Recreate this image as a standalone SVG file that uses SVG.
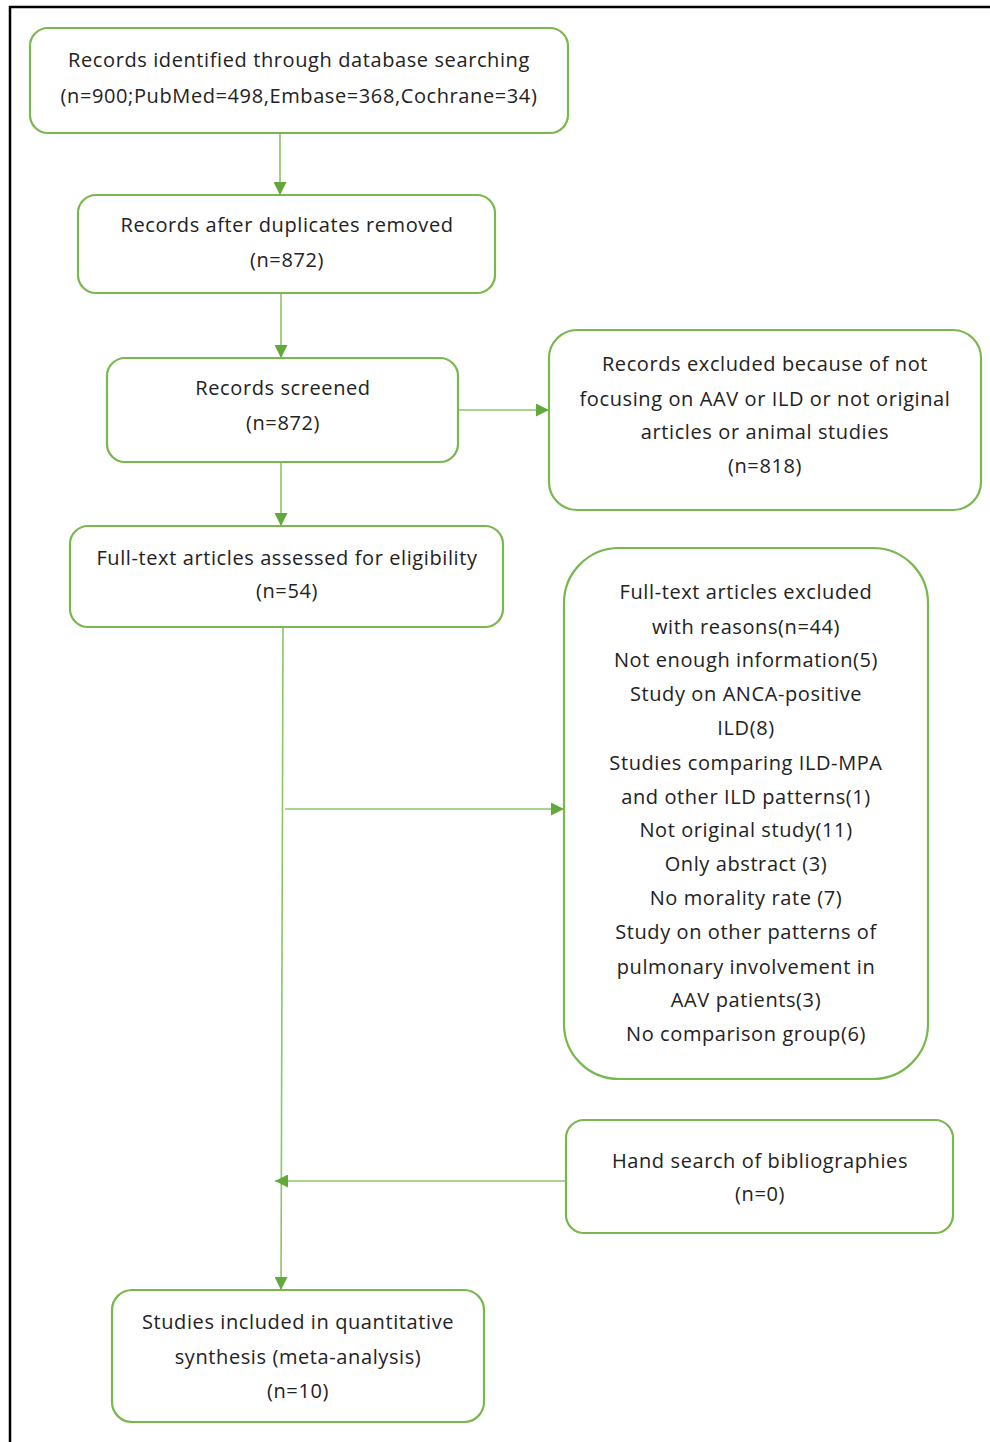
<svg xmlns="http://www.w3.org/2000/svg" width="990" height="1442" viewBox="0 0 990 1442">
<defs>
<marker id="ah" viewBox="0 0 10 10" refX="10" refY="5" markerWidth="13" markerHeight="13" markerUnits="userSpaceOnUse" orient="auto">
<path d="M0,0 L10,5 L0,10 Z" fill="#62a83a"/>
</marker>
</defs>
<style>
.box{fill:#ffffff;stroke:#78b84e;stroke-width:2.2}
.t{font-family:"Open Sans","DejaVu Sans",sans-serif;font-size:20px;letter-spacing:0.6px;fill:#222222;text-anchor:middle}
.c{fill:none;stroke:#8cc46a;stroke-width:1.6}
</style>
<rect width="990" height="1442" fill="#ffffff"/>
<path d="M10,1442 L10,7 L990,7" fill="none" stroke="#000000" stroke-width="2.5"/>
<g id="connectors">
<path class="c" d="M280,133 L280,195" marker-end="url(#ah)"/>
<path class="c" d="M281,293 L281,358" marker-end="url(#ah)"/>
<path class="c" d="M458,410 L549,410" marker-end="url(#ah)"/>
<path class="c" d="M281,462 L281,526" marker-end="url(#ah)"/>
<path class="c" d="M283,627 L281,1290" marker-end="url(#ah)"/>
<path class="c" d="M285,809 L564,809" marker-end="url(#ah)"/>
<path class="c" d="M566,1181 L275,1181" marker-end="url(#ah)"/>
</g>
<g id="n1">
<rect class="box" x="30" y="28" width="538" height="105" rx="18"/>
<text class="t" x="299" y="67">Records identified through database searching</text>
<text class="t" x="299" y="103">(n=900;PubMed=498,Embase=368,Cochrane=34)</text>
</g>
<g id="n2">
<rect class="box" x="78" y="195" width="417" height="98" rx="18"/>
<text class="t" x="287" y="232">Records after duplicates removed</text>
<text class="t" x="287" y="267">(n=872)</text>
</g>
<g id="n3">
<rect class="box" x="107" y="358" width="351" height="104" rx="18"/>
<text class="t" x="283" y="395">Records screened</text>
<text class="t" x="283" y="430">(n=872)</text>
</g>
<g id="n4">
<rect class="box" x="549" y="330" width="432" height="180" rx="28"/>
<text class="t" x="765" y="371">Records excluded because of not</text>
<text class="t" x="765" y="406">focusing on AAV or ILD or not original</text>
<text class="t" x="765" y="439">articles or animal studies</text>
<text class="t" x="765" y="473">(n=818)</text>
</g>
<g id="n5">
<rect class="box" x="70" y="526" width="433" height="101" rx="18"/>
<text class="t" x="287" y="565">Full-text articles assessed for eligibility</text>
<text class="t" x="287" y="598">(n=54)</text>
</g>
<g id="n6">
<rect class="box" x="564" y="548" width="364" height="531" rx="55"/>
<text class="t" x="746" y="599">Full-text articles excluded</text>
<text class="t" x="746" y="634">with reasons(n=44)</text>
<text class="t" x="746" y="667">Not enough information(5)</text>
<text class="t" x="746" y="701">Study on ANCA-positive</text>
<text class="t" x="746" y="735">ILD(8)</text>
<text class="t" x="746" y="770">Studies comparing ILD-MPA</text>
<text class="t" x="746" y="804">and other ILD patterns(1)</text>
<text class="t" x="746" y="837">Not original study(11)</text>
<text class="t" x="746" y="871">Only abstract (3)</text>
<text class="t" x="746" y="905">No morality rate (7)</text>
<text class="t" x="746" y="939">Study on other patterns of</text>
<text class="t" x="746" y="974">pulmonary involvement in</text>
<text class="t" x="746" y="1007">AAV patients(3)</text>
<text class="t" x="746" y="1041">No comparison group(6)</text>
</g>
<g id="n7">
<rect class="box" x="566" y="1120" width="387" height="113" rx="18"/>
<text class="t" x="760" y="1168">Hand search of bibliographies</text>
<text class="t" x="760" y="1201">(n=0)</text>
</g>
<g id="n8">
<rect class="box" x="112" y="1290" width="372" height="132" rx="20"/>
<text class="t" x="298" y="1329">Studies included in quantitative</text>
<text class="t" x="298" y="1364">synthesis (meta-analysis)</text>
<text class="t" x="298" y="1398">(n=10)</text>
</g>
</svg>
